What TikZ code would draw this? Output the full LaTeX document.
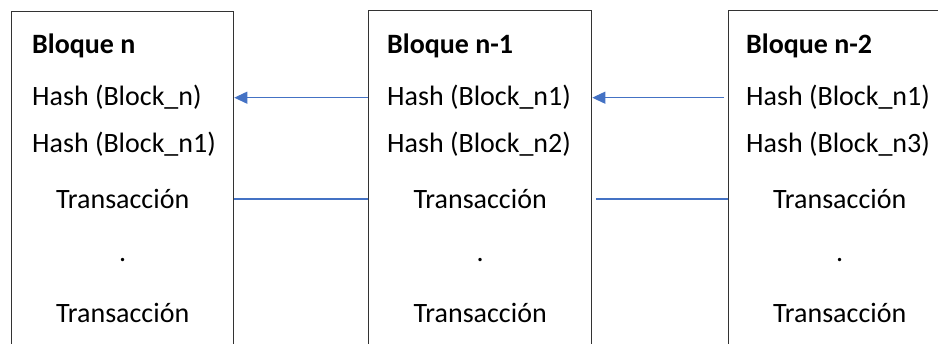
\documentclass[tikz,border=0pt]{standalone}
\usepackage{fontspec}
\setmainfont{Carlito}
\usetikzlibrary{arrows.meta,positioning}
\definecolor{azul}{HTML}{4472C4}

\begin{document}
\begin{tikzpicture}[x=1pt,y=-1pt,
		bloque/.style={draw=black!80,line width=1.3pt,minimum width=222pt,minimum height=360pt,anchor=north west,inner sep=0pt},
		titulo/.style={anchor=base west,inner sep=0pt,font=\bfseries\fontsize{28}{34}\selectfont},
		fila/.style={anchor=base west,inner sep=0pt,font=\fontsize{28}{34}\selectfont},
		medio/.style={anchor=base,inner sep=0pt,font=\fontsize{28}{34}\selectfont},
		enlace/.style={draw=azul,line width=1.2pt,-{Triangle[length=13pt,width=12pt]}},
		union/.style={draw=azul,line width=2pt}]
		\useasboundingbox (0,0) rectangle (938,344);
		\clip (0,0) rectangle (938,344);
		\node[bloque] (b1) at (11,11) {};
		\node[bloque,minimum width=223pt] (b2) at (368,10) {};
		\node[bloque] (b3) at (728,10) {};
		\node[titulo] (t1) at (32,54) {Bloque n};
		\node[fila] (ha1) at (32,106) {Hash (Block\_n)};
		\node[fila] (hb1) at (32,153) {Hash (Block\_n1)};
		\node[medio] (tr1) at (b1.north |- 0,209) {Transacción};
		\node[medio] (pt1) at (b1.north |- 0,262) {.};
		\node[medio] (tz1) at (b1.north |- 0,323) {Transacción};
		\node[titulo] (t2) at (387,54) {Bloque n-1};
		\node[fila] (ha2) at (387,106) {Hash (Block\_n1)};
		\node[fila] (hb2) at (387,153) {Hash (Block\_n2)};
		\node[medio] (tr2) at (b2.north |- 0,209) {Transacción};
		\node[medio] (pt2) at (b2.north |- 0,262) {.};
		\node[medio] (tz2) at (b2.north |- 0,323) {Transacción};
		\node[titulo] (t3) at (746,54) {Bloque n-2};
		\node[fila] (ha3) at (746,106) {Hash (Block\_n1)};
		\node[fila] (hb3) at (746,153) {Hash (Block\_n3)};
		\node[medio] (tr3) at (b3.north |- 0,209) {Transacción};
		\node[medio] (pt3) at (b3.north |- 0,262) {.};
		\node[medio] (tz3) at (b3.north |- 0,323) {Transacción};
		\draw[enlace] (b2.west |- ha2) -- (b1.east |- ha2);
		\draw[enlace,shorten <=4pt] (b3.west |- ha3) -- (b2.east |- ha3);
		\draw[union] (b1.east |- tr1) -- (b2.west |- tr1);
		\draw[union,shorten <=4pt] (b2.east |- tr2) -- (b3.west |- tr2);
\end{tikzpicture}
\end{document}
